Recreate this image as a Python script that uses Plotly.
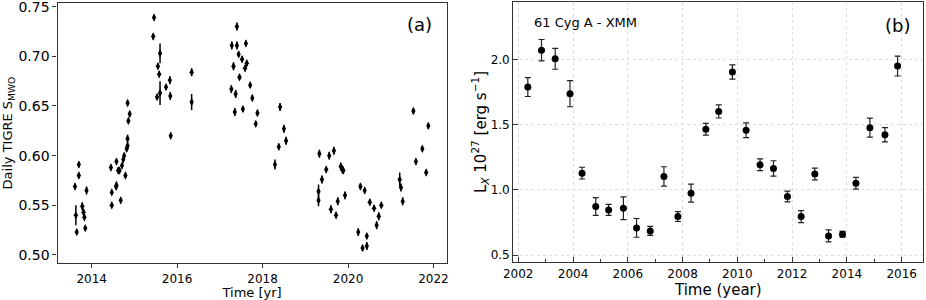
import plotly.graph_objects as go

# ---------- Panel (a): daily TIGRE S_MWO ----------
tigre_year = [
    2013.61, 2013.63, 2013.65, 2013.70, 2013.70, 2013.78, 2013.81, 2013.83, 2013.85, 2013.88,
    2014.45, 2014.47, 2014.47, 2014.58, 2014.57, 2014.58, 2014.62, 2014.65, 2014.68, 2014.71,
    2014.74, 2014.76, 2014.79, 2014.82, 2014.84, 2014.84, 2014.86, 2014.89, 2014.84,
    2015.44, 2015.46, 2015.60, 2015.55, 2015.58, 2015.53, 2015.60, 2015.74, 2015.83, 2015.84, 2015.85,
    2016.34, 2016.34,
    2017.28, 2017.40, 2017.40, 2017.61, 2017.32, 2017.44, 2017.52, 2017.59, 2017.63, 2017.46,
    2017.27, 2017.37, 2017.35, 2017.54, 2017.71, 2017.76, 2017.88, 2017.84,
    2018.29, 2018.38, 2018.41, 2018.50, 2018.55,
    2019.33, 2019.31, 2019.31, 2019.39, 2019.49, 2019.56, 2019.60, 2019.67, 2019.72, 2019.76,
    2019.83, 2019.87, 2019.89, 2019.93,
    2020.24, 2020.29, 2020.34, 2020.39, 2020.44, 2020.44, 2020.51, 2020.61, 2020.67, 2020.72, 2020.78,
    2021.21, 2021.24, 2021.28, 2021.53, 2021.59, 2021.74, 2021.83, 2021.88,
]
tigre_s = [
    0.569, 0.540, 0.523, 0.591, 0.580, 0.549, 0.543, 0.538, 0.527, 0.565,
    0.588, 0.563, 0.550, 0.594, 0.569, 0.570, 0.585, 0.585, 0.555, 0.590,
    0.596, 0.600, 0.580, 0.607, 0.610, 0.617, 0.635, 0.642, 0.653,
    0.720, 0.739, 0.703, 0.690, 0.682, 0.659, 0.663, 0.669, 0.676, 0.660, 0.620,
    0.684, 0.654,
    0.711, 0.711, 0.730, 0.713, 0.690, 0.702, 0.697, 0.688, 0.693, 0.679,
    0.667, 0.662, 0.644, 0.647, 0.671, 0.658, 0.643, 0.632,
    0.591, 0.609, 0.649, 0.627, 0.615,
    0.602, 0.564, 0.555, 0.576, 0.586, 0.600, 0.546, 0.605, 0.540, 0.554,
    0.589, 0.586, 0.585, 0.560,
    0.523, 0.569, 0.507, 0.565, 0.519, 0.509, 0.553, 0.547, 0.530, 0.539, 0.550,
    0.576, 0.568, 0.554, 0.645, 0.594, 0.607, 0.583, 0.630,
]
tigre_err = [
    0.003, 0.010, 0.003, 0.003, 0.003, 0.004, 0.003, 0.003, 0.003, 0.004,
    0.003, 0.003, 0.003, 0.003, 0.003, 0.004, 0.003, 0.003, 0.003, 0.003,
    0.003, 0.003, 0.003, 0.003, 0.003, 0.004, 0.003, 0.003, 0.003,
    0.003, 0.003, 0.010, 0.003, 0.003, 0.003, 0.012, 0.003, 0.004, 0.004, 0.003,
    0.004, 0.008,
    0.004, 0.004, 0.004, 0.003, 0.004, 0.003, 0.003, 0.003, 0.003, 0.003,
    0.004, 0.004, 0.004, 0.003, 0.003, 0.003, 0.003, 0.003,
    0.005, 0.003, 0.004, 0.004, 0.004,
    0.004, 0.007, 0.006, 0.004, 0.003, 0.004, 0.004, 0.004, 0.003, 0.004,
    0.004, 0.004, 0.003, 0.004,
    0.004, 0.003, 0.003, 0.003, 0.003, 0.004, 0.003, 0.003, 0.004, 0.004, 0.003,
    0.007, 0.004, 0.004, 0.003, 0.003, 0.003, 0.003, 0.003,
]

# ---------- Panel (b): 61 Cyg A XMM X-ray luminosity ----------
xmm_year = [
    2002.35, 2002.85, 2003.35, 2003.89, 2004.33, 2004.83, 2005.30, 2005.84, 2006.32, 2006.82,
    2007.32, 2007.83, 2008.31, 2008.85, 2009.32, 2009.82, 2010.32, 2010.83, 2011.32, 2011.83,
    2012.33, 2012.83, 2013.33, 2013.84, 2014.33, 2014.84, 2015.39, 2015.85,
]
xmm_lx = [
    1.788, 2.071, 2.005, 1.737, 1.128, 0.872, 0.846, 0.859, 0.708, 0.685,
    1.103, 0.795, 0.974, 1.465, 1.601, 1.904, 1.457, 1.192, 1.164, 0.949,
    0.795, 1.121, 0.646, 0.659, 1.051, 1.477, 1.422, 1.949,
]
xmm_err = [
    0.072, 0.082, 0.080, 0.100, 0.045, 0.068, 0.042, 0.087, 0.072, 0.035,
    0.074, 0.038, 0.069, 0.045, 0.050, 0.055, 0.057, 0.045, 0.059, 0.041,
    0.046, 0.045, 0.046, 0.022, 0.045, 0.073, 0.055, 0.076,
]

tigre_ticks = [0.50, 0.55, 0.60, 0.65, 0.70, 0.75]
tigre_years_ticks = [2014, 2016, 2018, 2020, 2022]
xmm_y_ticks = [0.5, 1.0, 1.5, 2.0]
xmm_x_ticks = [2002, 2004, 2006, 2008, 2010, 2012, 2014, 2016]

W, H = 926, 300
FONT = "DejaVu Sans"
AX = "#333333"

fig = go.Figure()

fig.add_trace(go.Scatter(
    x=tigre_year, y=tigre_s, mode="markers",
    marker=dict(symbol="diamond-tall", size=6, color="black", line=dict(width=0)),
    error_y=dict(type="data", array=tigre_err, visible=True, color="black", thickness=1.5, width=0),
    xaxis="x", yaxis="y", showlegend=False,
))

fig.add_trace(go.Scatter(
    x=xmm_year, y=xmm_lx, mode="markers",
    marker=dict(symbol="circle", size=7, color="black", line=dict(width=0)),
    error_y=dict(type="data", array=xmm_err, visible=True, color="#222222", thickness=1.2, width=3),
    xaxis="x2", yaxis="y2", showlegend=False,
))

def px(x):
    return x / W

def py(y):
    return 1 - y / H

common = dict(showline=True, linecolor=AX, linewidth=1.3, mirror=True, zeroline=False,
              automargin=False, ticklabeloverflow="allow")

fig.update_layout(
    width=W, height=H,
    margin=dict(l=0, r=0, t=0, b=0),
    paper_bgcolor="white", plot_bgcolor="white",
    font=dict(family=FONT, color="black"),
    xaxis=dict(
        domain=[px(57.5), px(446.7)], anchor="y",
        range=[2013.20, 2022.31],
        tickvals=tigre_years_ticks, ticktext=[str(v) for v in tigre_years_ticks],
        ticks="outside", ticklen=4, tickcolor=AX, showgrid=False,
        tickfont=dict(family=FONT, size=12, color="black"),
        title=dict(text="Time [yr]", font=dict(size=13, family=FONT), standoff=4),
        **common,
    ),
    yaxis=dict(
        domain=[py(263.3), py(3)], anchor="x",
        range=[0.4916, 0.7537],
        tickvals=tigre_ticks, ticktext=[f"{v:.2f}" for v in tigre_ticks],
        ticks="outside", ticklen=4, tickcolor=AX, showgrid=False,
        tickfont=dict(family=FONT, size=14, color="black"),
        title=dict(text="Daily TIGRE S<sub>MWO</sub>", font=dict(size=13, family=FONT), standoff=2),
        **common,
    ),
    xaxis2=dict(
        domain=[px(513.3), px(923.3)], anchor="y2",
        range=[2001.82, 2016.79],
        tickvals=xmm_x_ticks, ticktext=[str(v) for v in xmm_x_ticks],
        ticks="inside", ticklen=5, tickcolor=AX,
        minor=dict(dtick=1, tick0=2002, ticks="inside", ticklen=3, tickcolor=AX, showgrid=False),
        showgrid=True, gridcolor="#dedede", griddash="dot", gridwidth=1,
        tickfont=dict(family=FONT, size=12, color="black"),
        title=dict(text="Time (year)", font=dict(size=15, family=FONT), standoff=1),
        **common,
    ),
    yaxis2=dict(
        domain=[py(262.3), py(1.7)], anchor="x2",
        range=[0.444, 2.443],
        tickvals=xmm_y_ticks, ticktext=[f"{v:.1f}" for v in xmm_y_ticks],
        ticks="inside", ticklen=5, tickcolor=AX,
        showgrid=True, gridcolor="#dedede", griddash="dot", gridwidth=1,
        tickfont=dict(family=FONT, size=12, color="black"),
        title=dict(text="L<sub><i>X</i></sub> 10<sup>27</sup> [erg s<sup>−1</sup>]",
                   font=dict(size=15, family=FONT), standoff=0),
        **common,
    ),
    annotations=[
        dict(text="(a)", xref="x domain", yref="y domain", x=0.930, y=0.9155,
             xanchor="center", yanchor="middle", showarrow=False,
             font=dict(family=FONT, size=18, color="black")),
        dict(text="(b)", xref="x2 domain", yref="y2 domain", x=0.936, y=0.9087,
             xanchor="center", yanchor="middle", showarrow=False,
             font=dict(family=FONT, size=18, color="black")),
        dict(text="61 Cyg A - XMM", xref="x2 domain", yref="y2 domain", x=0.0456, y=0.92,
             xanchor="left", yanchor="middle", showarrow=False,
             font=dict(family=FONT, size=13, color="black")),
    ],
)

fig.write_html("out.html", config={"displayModeBar": False},
               post_script="document.body.style.margin='0';document.body.style.overflow='hidden';")
